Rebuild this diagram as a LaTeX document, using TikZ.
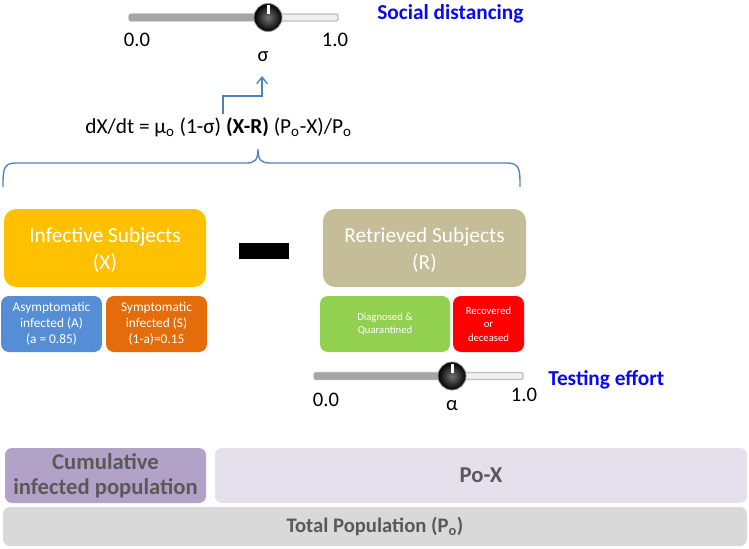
\documentclass[tikz,border=0pt]{standalone}
\usepackage{fontspec}
\setmainfont{Carlito}
\usetikzlibrary{arrows.meta}
\definecolor{cInf}{HTML}{FFC000}
\definecolor{cRet}{HTML}{C4BD97}
\definecolor{cAsy}{HTML}{558ED5}
\definecolor{cSym}{HTML}{E46C0A}
\definecolor{cDia}{HTML}{92D050}
\definecolor{cRec}{HTML}{FF0000}
\definecolor{cCum}{HTML}{B3A2C7}
\definecolor{cPoX}{HTML}{E6E0EC}
\definecolor{cTot}{HTML}{D9D9D9}
\definecolor{cGrayTxt}{HTML}{595959}
\definecolor{cLine}{HTML}{4F81BD}
\definecolor{cLab}{HTML}{0A0AF0}
\definecolor{cTrackD}{HTML}{A6A6A6}
\definecolor{cTrackL}{HTML}{EFEFEF}
\definecolor{cTrackB}{HTML}{BFBFBF}
\tikzset{
  bigbox/.style={rounded corners=12pt*0.75, inner sep=0pt},
  bigtext/.style={inner sep=0pt, font=\fontsize{16}{20.5}\selectfont, text=white, align=center},
  smallbox/.style={rounded corners=8pt*0.75, inner sep=0pt, font=\fontsize{10}{12}\selectfont, text=white, align=center},
  tinybox/.style={rounded corners=8pt*0.75, inner sep=0pt, font=\fontsize{8}{10}\selectfont, text=white, align=center},
  popbox/.style={rounded corners=7pt*0.75, inner sep=0pt, font=\bfseries\fontsize{17}{19}\selectfont, text=cGrayTxt, align=center},
  sliderlab/.style={font=\fontsize{15.5}{18}\selectfont, inner sep=0pt},
  bluelab/.style={font=\bfseries\fontsize{16}{19}\selectfont, text=cLab, inner sep=0pt, anchor=west},
  bluecon/.style={draw=cLine, line width=1pt},
}
\newcommand{\myslider}[5]{% name, x0, x1, y, knob x
  \fill[cTrackL, draw=cTrackB, line width=1pt, rounded corners=1.5] (#2,#4-3.5) rectangle (#3,#4+3.5);
  \fill[cTrackD, rounded corners=1.5] (#2,#4-3.5) rectangle (#5,#4+3.5);
  \node[circle, minimum size=28*0.75pt, inner sep=0pt, inner color=black!55, outer color=black, draw=black!45, line width=0.6pt] (#1) at (#5,#4) {};
  \fill[white] (#5-1.5,#4-12) rectangle (#5+1.5,#4-3);
}
\begin{document}
\begin{tikzpicture}[x=0.75pt, y=-0.75pt]
\useasboundingbox (0,0) rectangle (749,549);
% top slider
\myslider{knobS}{129}{338}{17.5}{268}
\node[sliderlab] (s0) at (137,40) {0.0};
\node[sliderlab] (s1) at (335,40) {1.0};
\node[sliderlab] (sigma) at (263,57) {σ};
\node[bluelab] (social) at (377,14) {Social distancing};
% equation
\node[font=\fontsize{16}{19}\selectfont, inner sep=0pt] (eq) at (218.5,127)
  {dX/dt = μ\textsubscript{o} (1-σ) \textbf{(X-R)} (P\textsubscript{o}-X)/P\textsubscript{o}};
\coordinate (arrstart) at (223,114);
\coordinate (arrtip) at (262,76);
\draw[bluecon, -{Straight Barb[length=5pt,width=8pt]}] (arrstart) -- (223,96) -- (262,96) -- (arrtip);
% brace
\coordinate (brL) at (3,187);
\coordinate (brR) at (520,187);
\coordinate (brT) at (258,149);
\draw[bluecon] (brL) .. controls (3,170) and (3,163) .. (16,163) -- (246,163)
  .. controls (255,163) and (258,160) .. (brT)
  .. controls (258,160) and (261,163) .. (270,163) -- (507,163)
  .. controls (520,163) and (520,170) .. (brR);
% big boxes
\node[bigbox, fill=cInf, minimum width=202*0.75pt, minimum height=78*0.75pt] (inf) at (105,248) {};
\node[bigtext] (infT) at (105,250) {Infective Subjects\\(X)};
\node[fill=black, minimum width=50*0.75pt, minimum height=16*0.75pt, inner sep=0pt] (minus) at (264,251) {};
\node[bigbox, fill=cRet, minimum width=203*0.75pt, minimum height=78*0.75pt] (ret) at (424.5,248) {};
\node[bigtext] (retT) at (424.5,250) {Retrieved Subjects\\(R)};
% small boxes
\node[smallbox, fill=cAsy, minimum width=101*0.75pt, minimum height=56*0.75pt] (asy) at (51.5,324) {Asymptomatic\\infected (A)\\(a = 0.85)};
\node[smallbox, fill=cSym, minimum width=101*0.75pt, minimum height=56*0.75pt] (sym) at (156.5,324) {Symptomatic\\infected (S)\\(1-a)=0.15};
\node[tinybox, fill=cDia, minimum width=130*0.75pt, minimum height=56*0.75pt] (dia) at (385,324) {Diagnosed \&\\Quarantined};
\node[tinybox, fill=cRec, minimum width=71*0.75pt, minimum height=56*0.75pt] (rec) at (488.5,324) {Recovered\\or\\deceased};
% bottom slider
\myslider{knobT}{314}{523}{376}{452}
\node[sliderlab] (t0) at (326,400) {0.0};
\node[sliderlab] (t1) at (524,395) {1.0};
\node[sliderlab] (alpha) at (452,406) {α};
\node[bluelab] (testing) at (548,380) {Testing effort};
% population boxes
\node[popbox, fill=cCum, minimum width=201*0.75pt, minimum height=55*0.75pt] (cum) at (105.5,475.5) {Cumulative\\infected population};
\node[popbox, fill=cPoX, minimum width=532*0.75pt, minimum height=55*0.75pt] (pox) at (481,475.5) {Po-X};
\node[popbox, fill=cTot, minimum width=744*0.75pt, minimum height=39*0.75pt, font=\bfseries\fontsize{15.5}{18}\selectfont] (tot) at (375,526.5) {Total Population (P\textsubscript{o})};
\end{tikzpicture}
\end{document}
